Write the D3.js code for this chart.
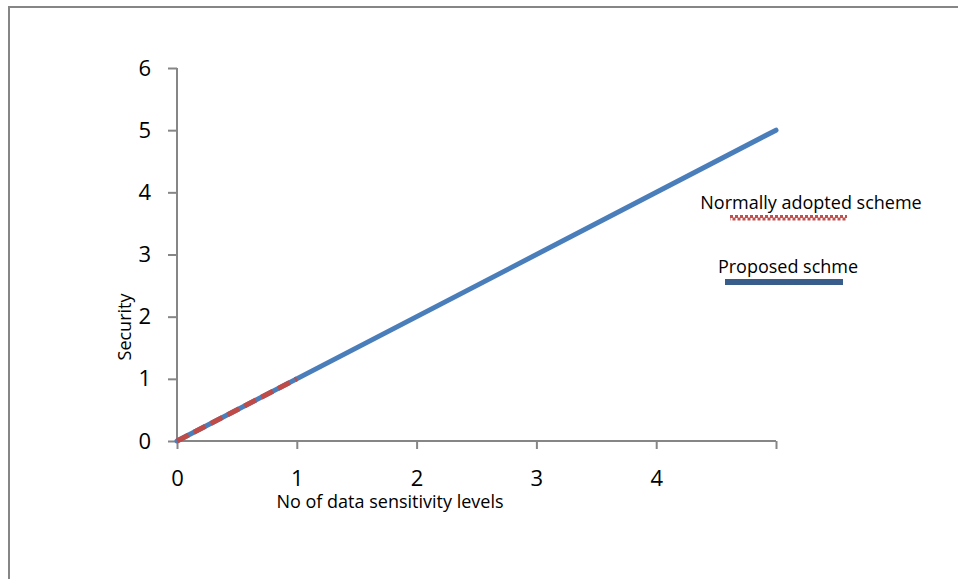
<!DOCTYPE html>
<html>
<head>
<meta charset="utf-8">
<script src="https://cdn.jsdelivr.net/npm/d3@7"></script>
<style>
  body { margin: 0; background: #fff; }
  .axis path, .axis line { stroke: #868686; stroke-width: 2; }
  .axis text { font-family: "Open Sans", "Liberation Sans", sans-serif; font-size: 22px; fill: #000; }
  .lbl { font-family: "Open Sans", "Liberation Sans", sans-serif; font-size: 18px; fill: #000; }
</style>
</head>
<body>
<div id="chart"></div>
<script>
(function() {
  var W = 958, H = 579;
  var margin = { top: 68, left: 177, right: 182, bottom: 138 },
      width = W - margin.left - margin.right,
      height = H - margin.top - margin.bottom;

  // data
  var xTicks = [0, 1, 2, 3, 4, 5]
  var xTickLabels = ["0", "1", "2", "3", "4", ""]
  var yTicks = [0, 1, 2, 3, 4, 5, 6]
  var proposedX = [0, 5]
  var proposedY = [0, 5]
  var normalX = [0, 1]
  var normalY = [0, 1]
  var seriesNames = ["Normally adopted scheme", "Proposed schme"]

  var root = d3.select("#chart")
    .append("svg")
    .attr("width", W)
    .attr("height", H)

  // outer frame (runs off the right and bottom edges)
  root.append("rect")
    .attr("x", 9).attr("y", 7)
    .attr("width", W + 20).attr("height", H + 20)
    .attr("fill", "none")
    .attr("stroke", "#868686")
    .attr("stroke-width", 2)

  var svg = root.append("g")
    .attr("transform", "translate(" + margin.left + "," + margin.top + ")");

  var x = d3.scaleLinear().domain([0, 5]).range([0, 599])
  var y = d3.scaleLinear().domain([0, 6]).range([373, 0])

  var xAxis = d3.axisBottom(x)
    .tickValues(xTicks)
    .tickSize(8)
    .tickPadding(21)
    .tickFormat(function(d, i) { return xTickLabels[i] })
  svg.append("g")
    .attr("class", "axis x-axis")
    .attr("transform", "translate(0," + y(0) + ")")
    .call(xAxis)

  var yAxis = d3.axisLeft(y)
    .tickValues(yTicks)
    .tickSize(9)
    .tickPadding(17)
    .tickFormat(d3.format("d"))
  svg.append("g")
    .attr("class", "axis y-axis")
    .call(yAxis)

  svg.selectAll(".axis .domain").attr("d", function() {
    return d3.select(this.parentNode).classed("x-axis")
      ? "M0,0H" + x(5)
      : "M0," + y(0) + "V" + y(6)
  })

  var line = d3.line()
    .x(function(d) { return x(d[0]) })
    .y(function(d) { return y(d[1]) })

  svg.append("path")
    .datum(d3.zip(proposedX, proposedY))
    .attr("d", line)
    .attr("fill", "none")
    .attr("stroke", "#4a7ebb")
    .attr("stroke-width", 5)
    .attr("stroke-linecap", "round")

  svg.append("path")
    .datum(d3.zip(normalX, normalY))
    .attr("d", line)
    .attr("fill", "none")
    .attr("stroke", "#be4b48")
    .attr("stroke-width", 5)
    .attr("stroke-dasharray", "13,6")

  // axis titles
  root.append("text")
    .attr("class", "lbl")
    .attr("x", 390).attr("y", 508)
    .attr("text-anchor", "middle")
    .text("No of data sensitivity levels")

  root.append("text")
    .attr("class", "lbl")
    .attr("transform", "translate(131,327) rotate(-90)")
    .attr("text-anchor", "middle")
    .text("Security")

  // legend
  root.append("text")
    .attr("class", "lbl")
    .attr("x", 811).attr("y", 209)
    .attr("text-anchor", "middle")
    .text(seriesNames[0])
  root.append("line")
    .attr("x1", 730).attr("x2", 847).attr("y1", 216.5).attr("y2", 216.5)
    .attr("stroke", "#c0504d").attr("stroke-width", 3)
    .attr("stroke-dasharray", "3,2")
  root.append("line")
    .attr("x1", 730).attr("x2", 847).attr("y1", 219).attr("y2", 219)
    .attr("stroke", "#c0504d").attr("stroke-width", 3)
    .attr("stroke-dasharray", "3,2").attr("stroke-dashoffset", 2.5)

  root.append("text")
    .attr("class", "lbl")
    .attr("x", 788).attr("y", 273)
    .attr("text-anchor", "middle")
    .text(seriesNames[1])
  root.append("line")
    .attr("x1", 725).attr("x2", 843).attr("y1", 282).attr("y2", 282)
    .attr("stroke", "#385d8a").attr("stroke-width", 6)

})();
</script>
</body>
</html>
